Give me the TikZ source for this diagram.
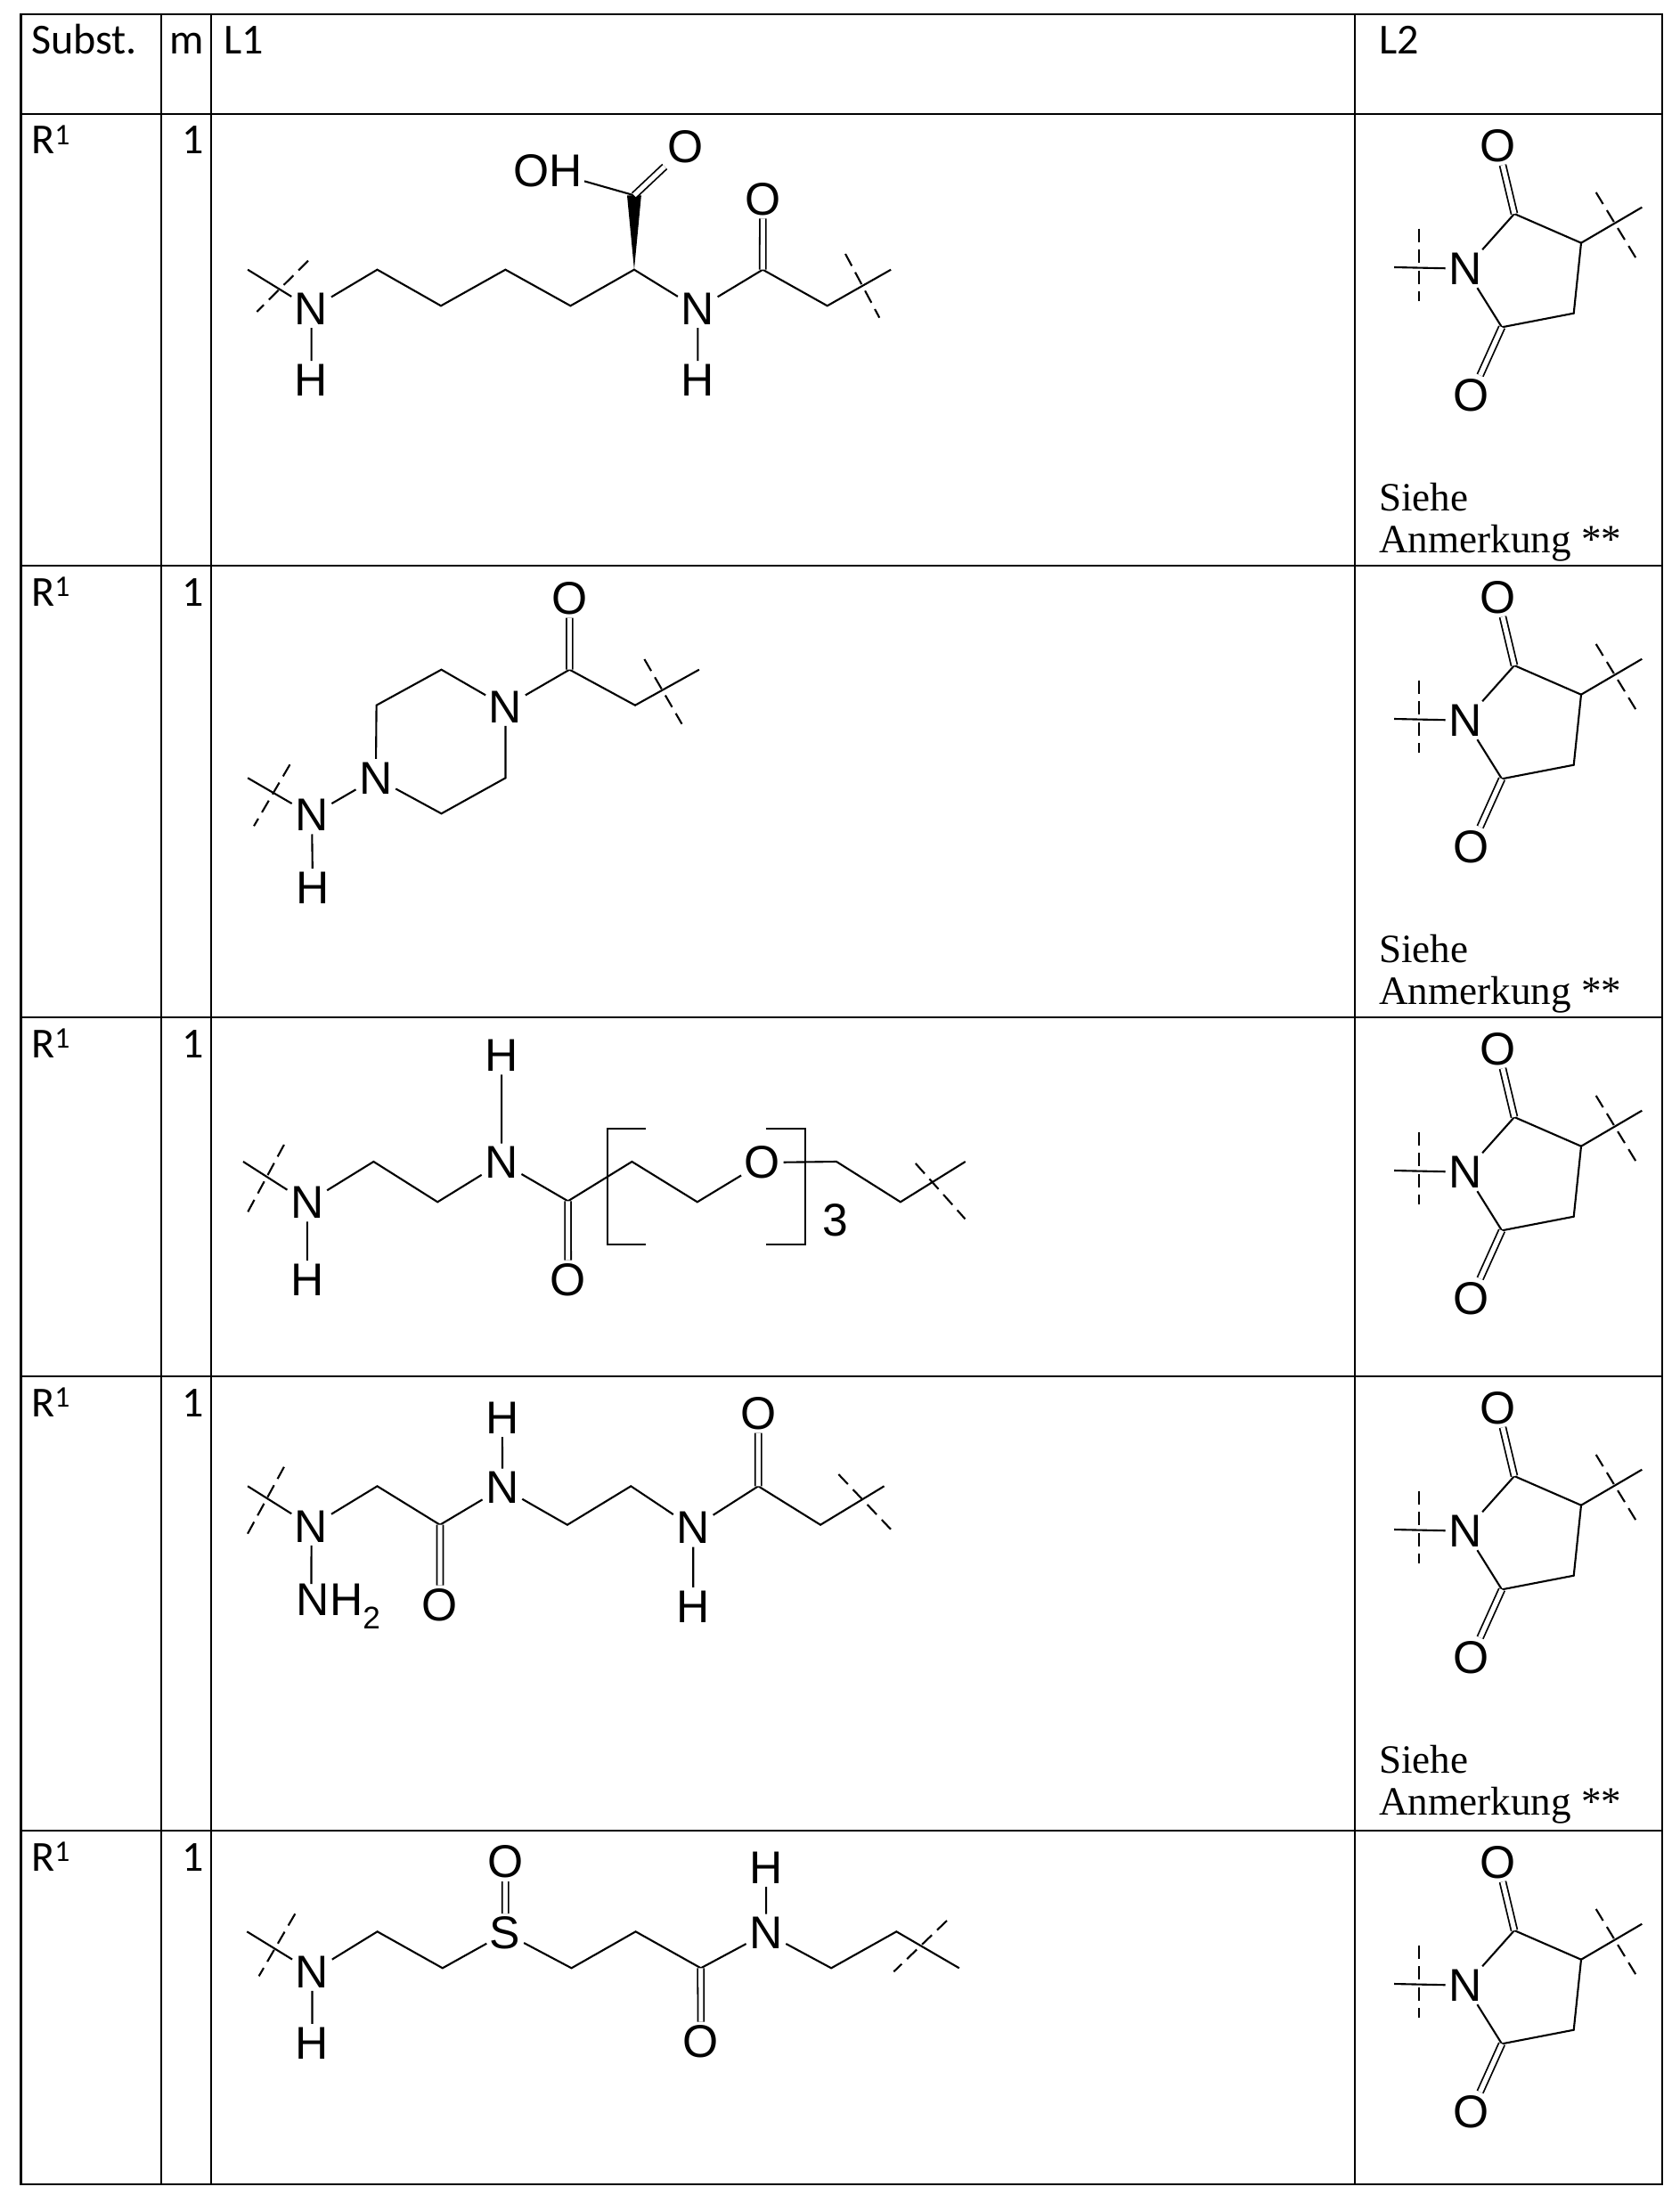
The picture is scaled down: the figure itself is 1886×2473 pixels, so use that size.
\documentclass[tikz,border=0pt]{standalone}
\usepackage{fontspec}
\usetikzlibrary{calc}
\setmainfont{Carlito}
\newfontfamily\chemf{Liberation Sans}
\newfontfamily\timesf{Liberation Serif}
\tikzset{
  tline/.style={line width=1.9pt},
  bond/.style={line width=1.8pt},
  dbond/.style={line width=1.5pt,double,double distance=4.4pt},
  cutl/.style={line width=1.8pt,dash pattern=on 13pt off 7pt},
  atom/.style={font=\chemf\fontsize{44pt}{48pt}\selectfont,inner sep=3pt},
  hdr/.style={font=\fontsize{41pt}{46pt}\selectfont,inner sep=0pt,anchor=base west},
  note/.style={font=\timesf\fontsize{38.5pt}{44pt}\selectfont,inner sep=0pt,anchor=west},
}
\newcommand{\succimide}[2]{%
  \begin{scope}[yshift=#1*(-0.03cm)]
  \node[atom] (#2N) at (1645,301.7) {N};
  \coordinate (#2f1) at (1565,300);
  \coordinate (#2ca) at (1700,240);
  \node[atom] (#2O1) at (1681.7,163.3) {O};
  \coordinate (#2cb) at (1775,272.7);
  \coordinate (#2f2) at (1843.3,232.7);
  \coordinate (#2cc) at (1766.7,351.7);
  \coordinate (#2cd) at (1686,367.3);
  \node[atom] (#2O2) at (1651.7,443.3) {O};
  \draw[bond] (#2N) -- (#2f1);
  \draw[cutl] (1593.3,256.7) -- (1593.3,338.3);
  \draw[bond] (#2N) -- (#2ca) -- (#2cb) -- (#2cc) -- (#2cd) -- (#2N);
  \draw[dbond] (#2ca) -- (#2O1);
  \draw[dbond] (#2cd) -- (#2O2);
  \draw[bond] (#2cb) -- (#2f2);
  \draw[cutl] (1791.7,216) -- (1836.7,290);
  \end{scope}}
\begin{document}
\begin{tikzpicture}[x=0.03cm,y=-0.03cm]
\useasboundingbox (0,0) rectangle (1886,2473);
\fill[white] (0,0) rectangle (1886,2473);
% table
\draw[tline] (23.6,16) rectangle (1866,2452);
\foreach \x in {181,237,1521} \draw[tline] (\x,16) -- (\x,2452);
\foreach \y in {128,635,1142,1545,2055} \draw[tline] (23.6,\y) -- (1866,\y);
% headers
\node[hdr] (hs) at (35,61) {Subst.};
\node[hdr,anchor=base] (hm) at (210,61) {m};
\node[hdr] (hl1) at (251,61) {L1};
\node[hdr] (hl2) at (1548,61) {L2};
\foreach \r/\t in {1/128,2/635,3/1142,4/1545,5/2055}{
  \node[hdr] (rs\r) at (35,\t+45) {R\textsuperscript{1}};
  \node[hdr,anchor=base] (rm\r) at (216.7,\t+45) {1};
}
% L2
\succimide{0}{a}
\succimide{507}{b}
\succimide{1014}{c}
\succimide{1417}{d}
\succimide{1927}{e}
\node[note] (s1) at (1548,558) {Siehe};
\node[note] (s1b) at (1548,610) {Anmerkung **};
\node[note] (s2) at (1548,1065) {Siehe};
\node[note] (s2b) at (1548,1117) {Anmerkung **};
\node[note] (s4) at (1548,1975) {Siehe};
\node[note] (s4b) at (1548,2027) {Anmerkung **};
% ---------- Row 1 L1
\begin{scope}[shift={(250,130)},xscale=1.5306,shift={(-250,-130)}]
\coordinate (p1f) at (268.3,302.7);
\node[atom] (p1N) at (315,346.7) {N};
\node[atom] (p1H) at (315,426.7) {H};
\coordinate (p1a) at (363.3,302.7);
\coordinate (p1b) at (410,343.3);
\coordinate (p1c) at (457.3,302.7);
\coordinate (p1d) at (505,343.3);
\coordinate (p1e) at (551.7,302.7);
\node[atom] (p1N2) at (598.3,346.7) {N};
\node[atom] (p1H2) at (598.3,426.7) {H};
\coordinate (p1g) at (646,302.7);
\node[atom] (p1O) at (646,223.3) {O};
\coordinate (p1h) at (693.3,343.3);
\coordinate (p1f2) at (740,302.7);
\coordinate (p1k) at (551.7,219.3);
\node[atom,inner sep=2pt] (p1OH) at (488.3,191.7) {OH};
\node[atom] (p1O2) at (589.3,165) {O};
\draw[bond] (p1f) -- (p1N);
\draw[cutl] (312.7,292.7) -- (275,350);
\draw[bond] (p1N) -- (p1H);
\draw[bond] (p1N) -- (p1a) -- (p1b) -- (p1c) -- (p1d) -- (p1e) -- (p1N2);
\draw[bond] (p1N2) -- (p1H2);
\draw[bond] (p1N2) -- (p1g) -- (p1h) -- (p1f2);
\draw[dbond] (p1g) -- (p1O);
\draw[cutl] (706.7,285) -- (731.7,356.7);
\fill (p1e) -- ($(p1k)+(5.2,0)$) -- ($(p1k)+(-5.2,0)$) -- cycle;
\draw[bond] (p1k) -- (p1OH);
\draw[dbond] (p1k) -- (p1O2);
\end{scope}
% ---------- Row 2 L1
\begin{scope}[shift={(250,640)},xscale=1.052,shift={(-250,-640)}]
\coordinate (p2f) at (276.7,873.3);
\node[atom] (p2N) at (345,915) {N};
\node[atom] (p2H) at (346,996.7) {H};
\node[atom] (p2R1) at (413.3,873.3) {N};
\coordinate (p2v1) at (414,791.7);
\coordinate (p2v2) at (483.3,751.7);
\node[atom] (p2R2) at (551.7,793.3) {N};
\coordinate (p2v3) at (551.7,873.3);
\coordinate (p2v4) at (483.3,913.3);
\coordinate (p2c) at (620,751.7);
\node[atom] (p2O) at (620,671.7) {O};
\coordinate (p2g) at (690,791.7);
\coordinate (p2f2) at (758.3,751.7);
\draw[bond] (p2f) -- (p2N);
\draw[cutl] (321.7,858.3) -- (283.3,927.3);
\draw[bond] (p2N) -- (p2H);
\draw[bond] (p2N) -- (p2R1);
\draw[bond] (p2R1) -- (p2v1) -- (p2v2) -- (p2R2) -- (p2v3) -- (p2v4) -- (p2R1);
\draw[bond] (p2R2) -- (p2c) -- (p2g) -- (p2f2);
\draw[dbond] (p2c) -- (p2O);
\draw[cutl] (700,740) -- (740,812.7);
\end{scope}
% ---------- Row 3 L1
\begin{scope}[shift={(250,1150)},xscale=1.722,shift={(-250,-1150)}]
\coordinate (p3f) at (263.3,1304);
\node[atom] (p3N) at (305,1350) {N};
\node[atom] (p3H) at (305,1436.7) {H};
\coordinate (p3a) at (348.3,1304);
\coordinate (p3b) at (390,1349.3);
\node[atom] (p3N2) at (431.7,1305) {N};
\node[atom] (p3H2) at (431.7,1185) {H};
\coordinate (p3c0) at (475,1348.3);
\node[atom] (p3O) at (475,1436.7) {O};
\coordinate (p3c) at (516.7,1304);
\coordinate (p3d) at (559.3,1349.3);
\node[atom] (p3O2) at (601.7,1305) {O};
\coordinate (p3e) at (650,1304);
\coordinate (p3g) at (691.7,1349.3);
\coordinate (p3f2) at (734,1304);
\draw[bond] (p3f) -- (p3N);
\draw[cutl] (290,1285) -- (266,1361.7);
\draw[bond] (p3N) -- (p3H);
\draw[bond] (p3N) -- (p3a) -- (p3b) -- (p3N2);
\draw[bond] (p3N2) -- (p3H2);
\draw[bond] (p3N2) -- (p3c0) -- (p3c) -- (p3d) -- (p3O2) -- (p3e) -- (p3g) -- (p3f2);
\draw[dbond] (p3c0) -- (p3O);
\draw[cutl] (701.7,1306) -- (734,1368.3);
\draw[bond] (526,1267.3) -- (500.7,1267.3) -- (500.7,1396.7) -- (526,1396.7);
\draw[bond] (604,1267.3) -- (630,1267.3) -- (630,1396.7) -- (604,1396.7);
\node[atom,inner sep=0pt] (p3n) at (649.3,1370) {3};
\end{scope}
% ---------- Row 4 L1
\begin{scope}[shift={(250,1540)},xscale=1.5306,shift={(-250,-1540)}]
\coordinate (p4f) at (268.3,1668.3);
\node[atom] (p4N) at (315,1713.3) {N};
\node[atom,anchor=west,inner sep=0pt] (p4NH2) at (304,1803.3) {NH\raisebox{-0.3em}{\fontsize{30pt}{33pt}\selectfont 2}};
\coordinate (p4a) at (363.3,1668.3);
\coordinate (p4c) at (409.3,1711.7);
\node[atom] (p4O) at (409.3,1801.7) {O};
\node[atom] (p4N2) at (455,1670) {N};
\node[atom] (p4H2) at (455,1591.7) {H};
\coordinate (p4b) at (502.7,1711.7);
\coordinate (p4d) at (549.3,1668.3);
\node[atom] (p4N3) at (595,1715) {N};
\node[atom] (p4H3) at (595,1803.3) {H};
\coordinate (p4c2) at (642.7,1668.3);
\node[atom] (p4O2) at (642.7,1586.7) {O};
\coordinate (p4g) at (688.3,1711.7);
\coordinate (p4f2) at (735,1668.3);
\draw[bond] (p4f) -- (p4N);
\draw[cutl] (295,1646.7) -- (268.3,1721.7);
\draw[bond] (p4N) -- (315,1778);
\draw[bond] (p4N) -- (p4a) -- (p4c) -- (p4N2);
\draw[dbond] (p4c) -- (p4O);
\draw[bond] (p4N2) -- (p4H2);
\draw[bond] (p4N2) -- (p4b) -- (p4d) -- (p4N3);
\draw[bond] (p4N3) -- (p4H3);
\draw[bond] (p4N3) -- (p4c2) -- (p4g) -- (p4f2);
\draw[dbond] (p4c2) -- (p4O2);
\draw[cutl] (701.7,1655) -- (740,1716.7);
\end{scope}
% ---------- Row 5 L1
\begin{scope}[shift={(250,2050)},xscale=1.626,shift={(-250,-2050)}]
\coordinate (p5f) at (266.7,2168.3);
\node[atom] (p5N) at (311.7,2213.3) {N};
\node[atom] (p5H) at (311.7,2293.3) {H};
\coordinate (p5a) at (356.7,2168.3);
\coordinate (p5b) at (401.7,2209.3);
\node[atom] (p5S) at (445,2170) {S};
\node[atom] (p5OS) at (445,2090) {O};
\coordinate (p5c) at (490.7,2209.3);
\coordinate (p5d) at (535,2168.3);
\coordinate (p5k) at (580,2209.3);
\node[atom] (p5O) at (580,2291.7) {O};
\node[atom] (p5N2) at (625,2170) {N};
\node[atom] (p5H2) at (625,2096.7) {H};
\coordinate (p5e) at (670,2209.3);
\coordinate (p5g) at (715,2168.3);
\coordinate (p5f2) at (758.3,2209.3);
\draw[bond] (p5f) -- (p5N);
\draw[cutl] (300,2148.3) -- (275,2218.3);
\draw[bond] (p5N) -- (p5H);
\draw[bond] (p5N) -- (p5a) -- (p5b) -- (p5S) -- (p5c) -- (p5d) -- (p5k) -- (p5N2);
\draw[dbond] (p5S) -- (p5OS);
\draw[dbond] (p5k) -- (p5O);
\draw[bond] (p5N2) -- (p5H2);
\draw[bond] (p5N2) -- (p5e) -- (p5g) -- (p5f2);
\draw[cutl] (750,2156) -- (713.3,2213.3);
\end{scope}
\end{tikzpicture}
\end{document}
